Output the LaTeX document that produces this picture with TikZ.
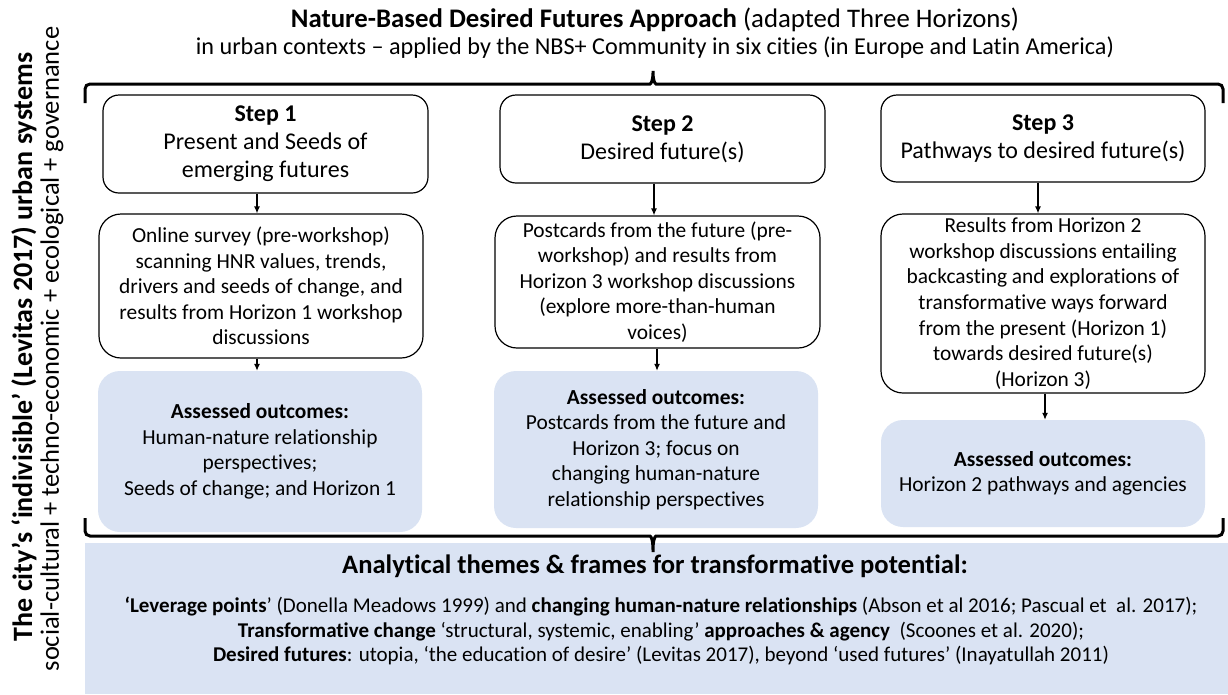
\documentclass[tikz,border=0pt]{standalone}
\usepackage{fontspec}
\setmainfont{Carlito}[Ligatures=NoCommon]
\usetikzlibrary{arrows.meta,positioning}
\definecolor{outblue}{HTML}{DAE3F3}
\newcommand{\stepfont}{\fontsize{24}{28}\selectfont}
\newcommand{\boxfont}{\fontsize{21.4}{25.6}\selectfont}
\tikzset{
    stepsty/.style={draw,line width=1.2pt,rounded corners=16pt,align=center,inner sep=0pt,font=\stepfont},
    worksty/.style={draw,line width=1.2pt,rounded corners=22pt,align=center,inner sep=0pt,font=\boxfont},
    outsty/.style={fill=outblue,rounded corners=22pt,align=center,inner sep=0pt,font=\boxfont},
    bracesty/.style={line width=3pt,rounded corners=5pt},
    arrsty/.style={->,line width=1.2pt},
}

\begin{document}
\begin{tikzpicture}[x=1pt,y=-1pt,>={Latex[length=7pt,width=6pt]}]
  \useasboundingbox (0,0) rectangle (1228,694);

  % title
  \node (title) at (655,20) {\fontsize{26.8}{30}\selectfont\textbf{Nature-Based Desired Futures Approach} (adapted Three Horizons)};
  \node (subtitle) at (655,48) {\fontsize{24.2}{28}\selectfont in urban contexts -- applied by the NBS+ Community in six cities (in Europe and Latin America)};

  % left side
  \node[rotate=90] (cityname) at (24,347) {\fontsize{28}{30}\selectfont\textbf{The city’s ‘indivisible’ (Levitas 2017) urban systems}};
  \node[rotate=90] (citylayers) at (52,349) {\fontsize{26.5}{30}\selectfont social-cultural + techno-economic + ecological + governance};

  % step 1
  \node[stepsty,minimum width=325,minimum height=98] (step1) at (265.5,144)
    {\textbf{Step 1}\\Present and Seeds of\\emerging futures};
  \node[worksty,minimum width=324,minimum height=144] (work1) at (261,286)
    {Online survey (pre-workshop)\\scanning HNR values, trends,\\drivers and seeds of change, and\\results from Horizon 1 workshop\\discussions};
  \node[outsty,minimum width=324,minimum height=161] (out1) at (260,451.5)
    {\textbf{Assessed outcomes:}\\Human-nature relationship\\perspectives;\\Seeds of change; and Horizon 1};

  % step 2
  \node[stepsty,minimum width=325,minimum height=88] (step2) at (662.5,139)
    {\textbf{Step 2}\\Desired future(s)};
  \node[worksty,minimum width=325,minimum height=132] (work2) at (657.5,282)
    {Postcards from the future (pre-\\workshop) and results from\\Horizon 3 workshop discussions\\(explore more-than-human\\voices)};
  \node[outsty,minimum width=324,minimum height=157] (out2) at (656,449.5)
    {\textbf{Assessed outcomes:}\\Postcards from the future and\\Horizon 3; focus on\\changing human-nature\\relationship perspectives};

  % step 3
  \node[stepsty,minimum width=324,minimum height=87] (step3) at (1043,138.5)
    {\textbf{Step 3}\\Pathways to desired future(s)};
  \node[worksty,minimum width=324,minimum height=179] (work3) at (1043,303.5)
    {Results from Horizon 2\\workshop discussions entailing\\backcasting and explorations of\\transformative ways forward\\from the present (Horizon 1)\\towards desired future(s)\\(Horizon 3)};
  \node[outsty,minimum width=324,minimum height=107] (out3) at (1043,473.5)
    {\textbf{Assessed outcomes:}\\Horizon 2 pathways and agencies};

  % arrows
  \draw[arrsty] ([xshift=-8.5pt]step1.south) -- ([xshift=-8.5pt]step1.south |- work1.north);
  \draw[arrsty] ([xshift=-4pt]work1.south) -- ([xshift=-4pt]work1.south |- out1.north);
  \draw[arrsty] ([xshift=-8.5pt]step2.south) -- ([xshift=-8.5pt]step2.south |- work2.north);
  \draw[arrsty] ([xshift=-0.5pt]work2.south) -- ([xshift=-0.5pt]work2.south |- out2.north);
  \draw[arrsty] ([xshift=-5pt]step3.south) -- ([xshift=-5pt]step3.south |- work3.north);
  \draw[arrsty] ([xshift=2pt]work3.south) -- ([xshift=2pt]work3.south |- out3.north);

  % braces
  \draw[bracesty] (85,103) -- (85,84) -- (645,84) .. controls (651,84) and (653,80) .. (653,68)
    .. controls (653,80) and (655,84) .. (661,84) -- (1223,84) -- (1223,103);

  % analytical frames
  \fill[outblue] (85,543) rectangle (1228,694);
  \draw[bracesty] (85,518) -- (85,536) -- (645,536) .. controls (651,536) and (653,540) .. (653,555)
    .. controls (653,540) and (655,536) .. (661,536) -- (1223,536) -- (1223,518);
  \node (frames) at (655,566) {\fontsize{26.6}{30}\selectfont\textbf{Analytical themes \& frames for transformative potential:}};
  \node[align=center,font=\fontsize{21}{24.5}\selectfont] (framelist) at (661,631)
    {\textbf{‘Leverage points}’ (Donella Meadows 1999) and \textbf{changing human-nature relationships} (Abson et al 2016; Pascual et~ al. 2017);\\
     \textbf{Transformative change} ‘structural, systemic, enabling’ \textbf{approaches \& agency}~ (Scoones et al. 2020);\\
     \textbf{Desired futures}: utopia, ‘the education of desire’ (Levitas 2017), beyond ‘used futures’ (Inayatullah 2011)};
\end{tikzpicture}
\end{document}
